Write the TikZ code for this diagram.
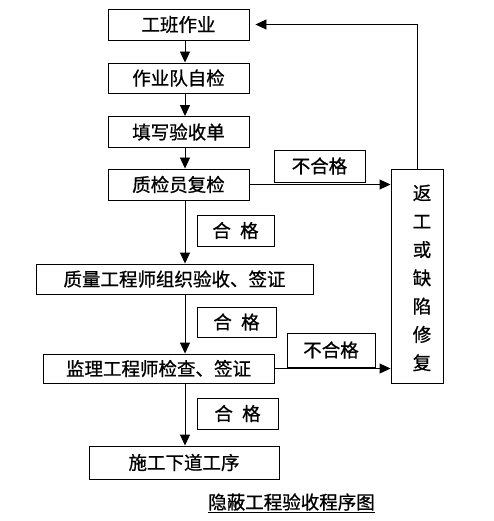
\documentclass[tikz,border=0pt]{standalone}
\usepackage{fontspec}
\setmainfont[FakeBold=0.8]{Noto Sans CJK SC}
\usetikzlibrary{arrows.meta}
\begin{document}
\begin{tikzpicture}[x=1pt,y=-1pt,
  box/.style={draw, line width=0.9pt, inner sep=0pt, font=\fontsize{18.5}{20}\selectfont},
  arr/.style={line width=0.9pt, -{Triangle[width=10pt,length=11pt]}}]
\useasboundingbox (0,0) rectangle (494,521);
\coordinate (col) at (185,0);
\node[box, minimum width=141pt, minimum height=31pt] (b1) at (178.5,24.5) {工班作业};
\node[box, minimum width=141pt, minimum height=30pt] (b2) at (178.5,78) {作业队自检};
\node[box, minimum width=141pt, minimum height=31pt] (b3) at (178.5,132) {填写验收单};
\node[box, minimum width=141pt, minimum height=31pt] (b4) at (178.5,184.5) {质检员复检};
\node[box, minimum width=277pt, minimum height=30pt] (b5) at (174.5,279) {质量工程师组织验收、签证};
\node[box, minimum width=231pt, minimum height=29pt] (b6) at (158.5,368.5) {监理工程师检查、签证};
\node[box, minimum width=190pt, minimum height=33pt] (b7) at (184,462.5) {施工下道工序};
\node[box, minimum width=52pt, minimum height=214pt] (ret) at (417,276) {};
\node[font=\fontsize{18.5}{28.3}\selectfont, align=center, inner sep=0pt] (rettext) at (422,278) {返\\工\\或\\缺\\陷\\修\\复};
\node[box, minimum width=91pt, minimum height=32pt] (n1) at (319.5,166) {不合格};
\node[box, minimum width=88pt, minimum height=34pt] (n2) at (331,350) {不合格};
\node[box, minimum width=77pt, minimum height=31pt] (h1) at (235.5,230.5) {合\hspace{0.5em}格};
\node[box, minimum width=79pt, minimum height=30pt] (h2) at (236.5,322) {合\hspace{0.5em}格};
\node[box, minimum width=81pt, minimum height=31pt] (h3) at (237.5,413.5) {合\hspace{0.5em}格};
\node[font=\fontsize{18.5}{20}\selectfont, inner sep=0pt] (title) at (291.5,503) {\underline{隐蔽工程验收程序图}};
\draw[arr] (b1.south -| col) -- (b2.north -| col);
\draw[arr] (b2.south -| col) -- (b3.north -| col);
\draw[arr] (b3.south -| col) -- (b4.north -| col);
\draw[arr] (b4.south -| col) -- (b5.north -| col);
\draw[arr] (b5.south -| col) -- (b6.north -| col);
\draw[arr] (b6.south -| col) -- (b7.north -| col);
\draw[arr] (b4.east) -- (b4.east -| ret.west);
\draw[arr] (b6.east) -- (b6.east -| ret.west);
\draw[arr, shorten >=6pt] (ret.north) |- (b1.east);
\end{tikzpicture}
\end{document}
